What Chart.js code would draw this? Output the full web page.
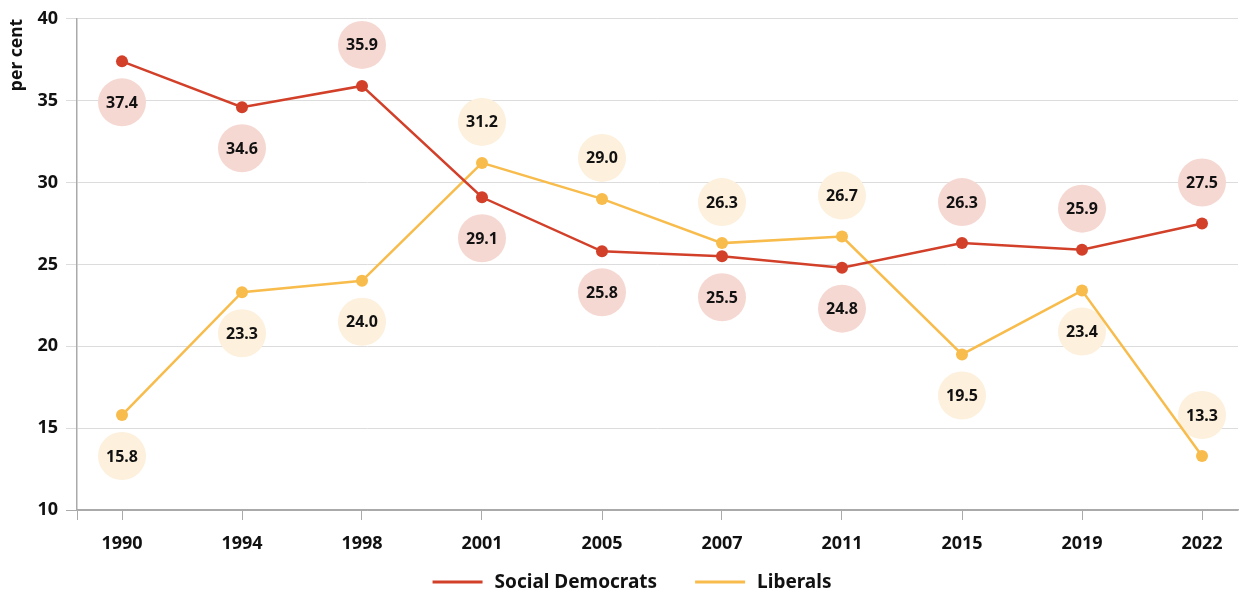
<!DOCTYPE html>
<html>
<head>
<meta charset="utf-8">
<script src="https://cdn.jsdelivr.net/npm/chart.js@4"></script>
<style>
  html, body { margin: 0; padding: 0; background: #fff; }
  #wrap { width: 1244px; height: 594px; }
</style>
</head>
<body>
<div id="wrap"><canvas id="chart"></canvas></div>
<script>
const years = ['1990', '1994', '1998', '2001', '2005', '2007', '2011', '2015', '2019', '2022'];
const socialDemocrats = [37.4, 34.6, 35.9, 29.1, 25.8, 25.5, 24.8, 26.3, 25.9, 27.5];
const liberals = [15.8, 23.3, 24.0, 31.2, 29.0, 26.3, 26.7, 19.5, 23.4, 13.3];
// which side the value bubble sits on: 1 = below, -1 = above
const sdSide = [1, 1, -1, 1, 1, 1, 1, -1, -1, -1];
const libSide = [1, 1, 1, -1, -1, -1, -1, 1, 1, -1];

const FONT = "'Noto Sans', 'Open Sans', sans-serif";
const RED = '#d2402a';
const YELLOW = '#f8bc4c';

const bubbleFill = ['#f6d8d3', '#fdf0dc'];
const sides = [sdSide, libSide];

// value bubbles, drawn under the lines
const bubbles = {
  id: 'bubbles',
  beforeDatasetsDraw(chart) {
    const ctx = chart.ctx;
    ctx.save();
    chart.data.datasets.forEach((ds, d) => {
      const meta = chart.getDatasetMeta(d);
      meta.data.forEach((pt, i) => {
        const cx = pt.x;
        const cy = pt.y + sides[d][i] * 41;
        ctx.beginPath();
        ctx.arc(cx, cy, 24, 0, Math.PI * 2);
        ctx.fillStyle = bubbleFill[d];
        ctx.fill();
        ctx.fillStyle = '#111';
        ctx.font = `bold 16px ${FONT}`;
        ctx.textAlign = 'center';
        ctx.textBaseline = 'middle';
        ctx.fillText(ds.data[i].y.toFixed(1), cx, cy + 1);
      });
    });
    ctx.restore();
  }
};

// bottom legend with line swatches and wide gaps
const lineLegend = {
  id: 'lineLegend',
  afterDraw(chart) {
    const ctx = chart.ctx;
    const y = 582;
    const swatch = 50, gapText = 12, gapItem = 38;
    ctx.save();
    ctx.font = `bold 19px ${FONT}`;
    const items = chart.data.datasets.map(ds => ({
      text: ds.label, color: ds.borderColor, w: ctx.measureText(ds.label).width,
    }));
    const total = items.reduce((s, it) => s + swatch + gapText + it.w, 0) + gapItem * (items.length - 1);
    let x = chart.width / 2 + 10 - total / 2;
    items.forEach(it => {
      ctx.strokeStyle = it.color;
      ctx.lineWidth = 3;
      ctx.beginPath();
      ctx.moveTo(x, y);
      ctx.lineTo(x + swatch, y);
      ctx.stroke();
      x += swatch + gapText;
      ctx.fillStyle = '#111';
      ctx.textAlign = 'left';
      ctx.textBaseline = 'middle';
      ctx.fillText(it.text, x, y + 1);
      x += it.w + gapItem;
    });
    ctx.restore();
  }
};

const toXY = arr => arr.map((v, i) => ({ x: i, y: v }));

new Chart(document.getElementById('chart'), {
  type: 'line',
  data: {
    datasets: [
      {
        label: 'Social Democrats',
        data: toXY(socialDemocrats),
        borderColor: RED,
        backgroundColor: RED,
        borderWidth: 2.5,
        pointRadius: 6,
        pointHoverRadius: 6,
        pointBorderWidth: 0,
        tension: 0,
      },
      {
        label: 'Liberals',
        data: toXY(liberals),
        borderColor: YELLOW,
        backgroundColor: YELLOW,
        borderWidth: 2.5,
        pointRadius: 6,
        pointHoverRadius: 6,
        pointBorderWidth: 0,
        tension: 0,
      },
    ],
  },
  options: {
    responsive: true,
    maintainAspectRatio: false,
    animation: false,
    layout: { padding: { top: 12, right: 0, left: 0, bottom: 30 } },
    plugins: {
      legend: { display: false },
      tooltip: { enabled: false },
    },
    scales: {
      x: {
        type: 'linear',
        min: -0.375,
        max: 9.3,
        afterBuildTicks(scale) {
          scale.ticks = [{ value: -0.375 }].concat(years.map((y, i) => ({ value: i })));
        },
        afterFit(scale) { scale.height = 54; },
        ticks: {
          autoSkip: false,
          maxRotation: 0,
          padding: 13,
          color: '#111',
          font: { family: FONT, size: 18, weight: 'bold' },
          callback: v => (Number.isInteger(v) ? years[v] : ''),
        },
        grid: { drawOnChartArea: false, drawTicks: true, tickLength: 10, color: '#aaa' },
        border: { color: '#aaa', width: 1.5 },
      },
      y: {
        min: 10,
        max: 40,
        afterFit(scale) { scale.width = 77; },
        ticks: {
          stepSize: 5,
          padding: 8,
          color: '#111',
          font: { family: FONT, size: 18, weight: 'bold' },
        },
        title: {
          display: true,
          text: 'per cent',
          align: 'end',
          color: '#111',
          padding: { top: 7, bottom: 0 },
          font: { family: FONT, size: 17.5, weight: 'bold' },
        },
        grid: {
          tickLength: 11,
          color: ctx => (ctx.tick && ctx.tick.value === 10 ? '#aaa' : '#dcdcdc'),
        },
        border: { color: '#aaa', width: 1.5 },
      },
    },
  },
  plugins: [bubbles, lineLegend],
});
</script>
</body>
</html>
